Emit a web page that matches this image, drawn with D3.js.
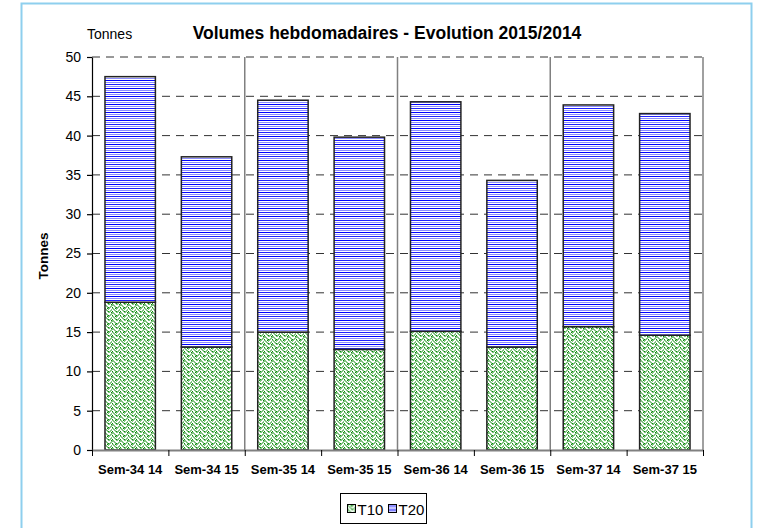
<!DOCTYPE html>
<html lang="fr">
<head>
<meta charset="utf-8">
<title>Volumes hebdomadaires - Evolution 2015/2014</title>
<script src="https://d3js.org/d3.v7.min.js"></script>
<style>
  body { margin: 0; background: #fff; font-family: "Liberation Sans", Arial, sans-serif; }
  svg { display: block; font-family: "Liberation Sans", Arial, sans-serif; }
</style>
</head>
<body>
<div id="chart"></div>
<script>
const weeks = ["Sem-34 14", "Sem-34 15", "Sem-35 14", "Sem-35 15", "Sem-36 14", "Sem-36 15", "Sem-37 14", "Sem-37 15"];
const t10 = [18.8, 13.1, 15.0, 12.8, 15.1, 13.1, 15.7, 14.6];
const t20 = [28.7, 24.2, 29.5, 27.0, 29.2, 21.2, 28.2, 28.2];
const yTicks = [0, 5, 10, 15, 20, 25, 30, 35, 40, 45, 50];
const seriesNames = ["T10", "T20"];

const w = 758, h = 528;
const m = { left: 92, right: 703, top: 57, bottom: 450 };

const svg = d3.select("#chart").append("svg")
  .attr("width", w).attr("height", h);

// patterns
const defs = svg.append("defs");
const pBlue = defs.append("pattern").attr("id", "pT20")
  .attr("patternUnits", "userSpaceOnUse").attr("width", 8).attr("height", 8);
pBlue.append("rect").attr("width", 8).attr("height", 8).attr("fill", "#fff");
pBlue.append("rect").attr("y", 0).attr("width", 8).attr("height", 1).attr("fill", "#0000ff");
pBlue.append("rect").attr("y", 2).attr("width", 8).attr("height", 1).attr("fill", "#8c8cff");
pBlue.append("rect").attr("y", 4).attr("width", 8).attr("height", 1).attr("fill", "#2020ff");
pBlue.append("rect").attr("y", 6).attr("width", 8).attr("height", 1).attr("fill", "#8c8cff");

const pGreen = defs.append("pattern").attr("id", "pT10")
  .attr("patternUnits", "userSpaceOnUse").attr("width", 8).attr("height", 8);
pGreen.append("rect").attr("width", 8).attr("height", 8).attr("fill", "#fff");
// herringbone-ish weave
const light = [[0,0],[1,1],[2,2],[3,3],[4,0],[5,7],[6,6],[7,5],[0,4],[1,5],[2,6],[3,7],[4,4],[5,3],[6,2],[7,1],
               [1,0],[2,1],[3,2],[5,4],[6,3],[7,2],[2,5],[3,6],[6,7],[7,6],[0,1],[4,5],[1,4],[5,0]];
light.forEach(p => pGreen.append("rect").attr("x", p[0]).attr("y", p[1])
  .attr("width", 1).attr("height", 1).attr("fill", "#7fc27f"));
const dark = [[4,3],[0,7],[4,7],[0,3],[3,4],[7,0]];
dark.forEach(p => pGreen.append("rect").attr("x", p[0]).attr("y", p[1])
  .attr("width", 1).attr("height", 1).attr("fill", "#0a8a0a"));

// outer frame
svg.append("rect")
  .attr("x", 21.5).attr("y", 3.5).attr("width", 730).attr("height", 560)
  .attr("fill", "none").attr("stroke", "#8ecfee").attr("stroke-width", 2);

const x = d3.scaleBand().domain(weeks).range([m.left, m.right])
  .paddingInner(0.34).paddingOuter(0.17);
const xPos = d3.scaleLinear().domain([0, weeks.length]).range([m.left, m.right]);
const y = d3.scaleLinear().domain([0, 50]).range([m.bottom, m.top]);

// dashed gridlines
svg.append("g").selectAll("line")
  .data(yTicks.filter(d => d > 0))
  .enter().append("line")
  .attr("x1", m.left).attr("x2", m.right)
  .attr("y1", d => y(d)).attr("y2", d => y(d))
  .attr("stroke", "#333").attr("stroke-width", 1)
  .attr("stroke-dasharray", "8,6");

// week separators
svg.append("g").selectAll("line")
  .data([2, 4, 6, 8])
  .enter().append("line")
  .attr("x1", d => xPos(d)).attr("x2", d => xPos(d))
  .attr("y1", y(50)).attr("y2", y(0))
  .attr("stroke", "#808080").attr("stroke-width", 1.5);

// stacked bars
const rows = weeks.map((wk, i) => ({ week: wk, T10: t10[i], T20: t20[i] }));
const stack = d3.stack().keys(seriesNames)(rows);

svg.append("g").selectAll("g")
  .data(stack)
  .enter().append("g")
  .attr("fill", d => `url(#p${d.key})`)
  .selectAll("rect")
  .data(d => d)
  .enter().append("rect")
  .attr("x", d => x(d.data.week))
  .attr("width", x.bandwidth())
  .attr("y", d => y(d[1]))
  .attr("height", d => y(d[0]) - y(d[1]))
  .attr("stroke", "#222").attr("stroke-width", 1.5);

// y axis
const yAxis = svg.append("g")
  .attr("transform", `translate(${m.left},0)`)
  .call(d3.axisLeft(y).tickValues(yTicks).tickSize(5).tickSizeOuter(0).tickPadding(6));
yAxis.attr("font-size", null).attr("font-family", null);
yAxis.selectAll("text").style("font-size", "14px").attr("fill", "#000");
yAxis.selectAll("line, path").attr("stroke", "#000").attr("stroke-width", 1.2);

// x axis ticks at category boundaries
const xAxis = svg.append("g")
  .attr("transform", `translate(0,${m.bottom})`)
  .call(d3.axisBottom(xPos).tickValues(d3.range(0, weeks.length + 1)).tickSize(6).tickSizeOuter(0).tickFormat(""));
xAxis.select("path").attr("stroke", "#808080").attr("stroke-width", 2);
xAxis.selectAll("line").attr("stroke", "#000");

// category labels
svg.append("g").selectAll("text")
  .data(weeks)
  .enter().append("text")
  .attr("x", d => x(d) + x.bandwidth() / 2)
  .attr("y", 474)
  .attr("text-anchor", "middle")
  .style("font-size", "13px").style("font-weight", "bold")
  .text(d => d);

// titles
svg.append("text")
  .attr("x", 387).attr("y", 39)
  .attr("text-anchor", "middle")
  .style("font-size", "17.5px").style("font-weight", "bold")
  .text("Volumes hebdomadaires - Evolution 2015/2014");

svg.append("text")
  .attr("x", 87).attr("y", 39)
  .style("font-size", "14px")
  .text("Tonnes");

svg.append("text")
  .attr("transform", `translate(48,256) rotate(-90)`)
  .attr("text-anchor", "middle")
  .style("font-size", "13.5px").style("font-weight", "bold")
  .text("Tonnes");

// legend
const lg = svg.append("g").attr("transform", "translate(340.5,493.5)");
lg.append("rect").attr("width", 86).attr("height", 30)
  .attr("fill", "#fff").attr("stroke", "#000").attr("stroke-width", 1);
const items = lg.selectAll("g.item")
  .data(seriesNames)
  .enter().append("g")
  .attr("transform", (d, i) => `translate(${7 + i * 41},0)`);
items.append("rect")
  .attr("y", 11).attr("width", 8).attr("height", 8)
  .attr("fill", d => `url(#p${d})`)
  .attr("stroke", "#000").attr("stroke-width", 1);
items.append("text")
  .attr("x", 10).attr("y", 21)
  .style("font-size", "15px")
  .text(d => d);
</script>
</body>
</html>
